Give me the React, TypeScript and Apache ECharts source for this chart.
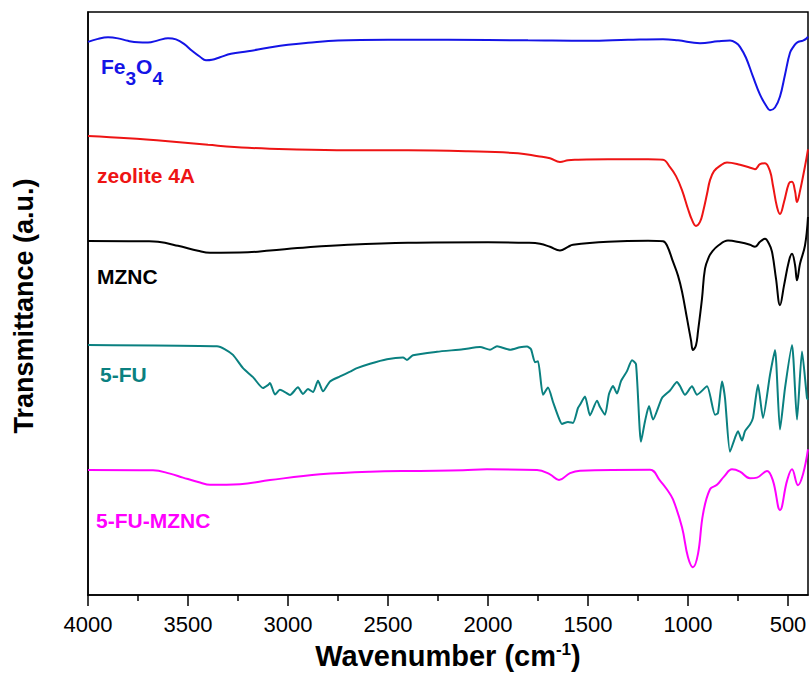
import React, { useEffect, useRef } from "react";
import * as echarts from "echarts";

// [wavenumber (cm-1), transmittance (a.u., offset spectra)]
const fe3o4: [number, number][] = [
  [4000, 556], [3950, 559], [3900, 560.5], [3850, 559.5], [3800, 557], [3750, 555.5], [3700, 555.3],
  [3650, 557.5], [3600, 559.7], [3560, 558.5], [3520, 554], [3480, 547], [3440, 541], [3410, 537.5],
  [3380, 538], [3340, 540.5], [3285, 544], [3200, 546.5], [3100, 550], [3000, 553], [2900, 555],
  [2750, 557.3], [2500, 558], [2200, 558], [1800, 557.5], [1500, 557], [1300, 558], [1125, 558.7],
  [1050, 557.5], [940, 554.7], [850, 556.5], [790, 557.3], [760, 555], [740, 551], [710, 540],
  [675, 521], [640, 503], [610, 492], [590, 487.3], [565, 490], [540, 501], [515, 523], [490, 545],
  [470, 552], [455, 555.3], [425, 557.3], [410, 559], [400, 561.3],
];

const zeolite4A: [number, number][] = [
  [4000, 461.3], [3800, 459], [3600, 456], [3400, 452.5], [3200, 449.5], [3000, 448], [2700, 447],
  [2400, 447], [2100, 446], [1850, 444], [1750, 441], [1690, 439], [1640, 435.3], [1600, 437],
  [1560, 437.5], [1400, 438], [1200, 438], [1125, 437.5], [1090, 430], [1060, 421], [1030, 407],
  [1000, 388], [980, 377], [960, 371], [940, 375], [925, 385], [905, 403], [890, 417], [870, 426],
  [840, 431.3], [805, 434.7], [740, 432.5], [680, 429], [665, 428], [640, 433], [615, 434],
  [590, 426], [575, 411.3], [555, 390], [540, 383], [520, 395], [495, 414], [480, 415.3],
  [465, 406], [455, 395], [440, 406], [415, 431], [400, 448],
];

const mznc: [number, number][] = [
  [4000, 355.7], [3700, 355.5], [3650, 355], [3550, 351], [3450, 346], [3390, 344], [3200, 344.5],
  [3090, 346.3], [2900, 349.5], [2700, 352], [2400, 354], [2000, 354.5], [1800, 354], [1740, 353],
  [1690, 350], [1640, 346.3], [1600, 350], [1575, 352], [1400, 355], [1200, 356], [1125, 355.5],
  [1105, 351.3], [1075, 335], [1050, 321], [1030, 305], [1005, 278], [985, 256], [975, 246.3],
  [960, 251], [950, 265], [930, 298], [915, 328], [895, 340], [880, 345], [850, 351], [800, 356.3],
  [740, 354.5], [690, 352], [665, 350], [640, 355], [615, 358], [595, 353], [580, 345], [560, 318],
  [540, 291.3], [520, 311], [495, 336], [480, 343], [465, 332], [455, 316.3], [440, 333],
  [415, 351.3], [400, 380],
];

const fu5: [number, number][] = [
  [4000, 251.3], [3355, 250], [3315, 247], [3275, 241.3], [3225, 228], [3175, 219], [3125, 208],
  [3100, 211], [3090, 213], [3065, 201.5], [3040, 206.3], [3015, 204], [2990, 201], [2950, 208.7],
  [2925, 202], [2900, 207], [2875, 204], [2850, 215.3], [2825, 204.7], [2790, 214.7], [2740, 219.7],
  [2690, 224.5], [2655, 228], [2590, 232.5], [2505, 237], [2425, 238.7], [2405, 236.3], [2375, 241],
  [2255, 244.5], [2125, 247], [2040, 249.3], [1990, 246.5], [1955, 250], [1890, 246.5], [1840, 249],
  [1805, 249.7], [1785, 247], [1765, 234], [1750, 235], [1725, 201.3], [1700, 208.5], [1675, 194],
  [1650, 180], [1630, 172], [1600, 174], [1575, 173], [1550, 188], [1540, 191.3], [1515, 199.5],
  [1490, 180.5], [1455, 195.3], [1440, 189], [1415, 181.3], [1395, 202], [1375, 210], [1355, 202.5],
  [1335, 215], [1305, 225], [1280, 236], [1260, 232], [1235, 154], [1215, 174.7], [1195, 190],
  [1175, 176.3], [1130, 198], [1090, 205.5], [1055, 214], [1040, 210], [1015, 201.3], [980, 209.7],
  [955, 201.3], [905, 209.7], [865, 181.3], [850, 183], [830, 214.7], [815, 198], [790, 144],
  [765, 158], [750, 164.7], [730, 155.3], [715, 164.7], [690, 171.3], [675, 178], [650, 211.3],
  [625, 178], [590, 221.3], [565, 246.3], [540, 166.3], [515, 208], [480, 251.3], [455, 176.3],
  [430, 244.7], [405, 198], [400, 196.3],
];

const fuMznc: [number, number][] = [
  [4000, 125.7], [3675, 125.3], [3590, 122], [3525, 118], [3440, 113], [3390, 110.7], [3240, 111.3],
  [3090, 115.5], [2840, 121.3], [2590, 124], [2340, 124.7], [2125, 125.3], [2005, 126.3], [1755, 125.7],
  [1690, 121.3], [1645, 115.7], [1590, 122.5], [1540, 125], [1190, 126], [1140, 115], [1105, 106],
  [1075, 96], [1030, 68], [1000, 38], [975, 28], [950, 41.3], [925, 81.3], [890, 106.3], [855, 110.7],
  [820, 119], [780, 126.3], [740, 124], [690, 117.3], [655, 118], [605, 124.7], [575, 114.7],
  [540, 85.3], [505, 114.7], [480, 126.3], [450, 110.3], [425, 121.3], [400, 146.3],
];

const majorTicks = [4000, 3500, 3000, 2500, 2000, 1500, 1000, 500];
const minorTicks = [3750, 3250, 2750, 2250, 1750, 1250, 750];

const FONT = '"Liberation Sans", Arial, sans-serif';
const BLUE = "#1414e6";
const RED = "#ee1414";
const BLACK = "#000000";
const TEAL = "#0a8080";
const MAGENTA = "#ff00ff";

export default function App() {
  const ref = useRef<HTMLDivElement>(null);
  useEffect(() => {
    const chart = echarts.init(ref.current!, null, { renderer: "svg" });
    const mk = (name: string, data: [number, number][], color: string, smooth: number) => ({
      name,
      type: "line",
      data,
      xAxisIndex: 0,
      yAxisIndex: 0,
      showSymbol: false,
      smooth,
      lineStyle: { color, width: 2 },
      itemStyle: { color },
    });
    chart.setOption({
      animation: false,
      backgroundColor: "#ffffff",
      grid: {
        left: 88,
        right: 2,
        top: 12,
        bottom: 77,
        show: true,
        borderColor: "#000",
        borderWidth: 1.5,
        backgroundColor: "transparent",
      },
      xAxis: [
        {
          type: "value",
          min: 400,
          max: 4000,
          inverse: true,
          position: "bottom",
          axisLine: { show: true, onZero: false, lineStyle: { color: "#000", width: 1.5 } },
          axisTick: {
            show: true,
            length: 11,
            customValues: majorTicks,
            lineStyle: { color: "#000", width: 1.5 },
          },
          axisLabel: {
            customValues: majorTicks,
            showMinLabel: true,
            showMaxLabel: true,
            margin: 18,
            fontSize: 22,
            color: "#000",
            fontFamily: FONT,
            formatter: (v: number) => (majorTicks.indexOf(v) >= 0 ? String(v) : ""),
          },
          splitLine: { show: false },
          name: "Wavenumber (cm{sup|-1})",
          nameLocation: "middle",
          nameGap: 46,
          nameTextStyle: {
            fontSize: 29,
            fontWeight: "bold",
            color: "#000",
            fontFamily: FONT,
            rich: {
              sup: { fontSize: 17, fontWeight: "bold", color: "#000", fontFamily: FONT, verticalAlign: "top" },
            },
          },
        },
        {
          type: "value",
          min: 400,
          max: 4000,
          inverse: true,
          position: "bottom",
          axisLine: { show: false },
          axisTick: {
            show: true,
            length: 6,
            customValues: minorTicks,
            lineStyle: { color: "#000", width: 1.5 },
          },
          axisLabel: { show: false },
          splitLine: { show: false },
        },
      ],
      yAxis: {
        type: "value",
        min: 0,
        max: 586,
        axisLine: { show: true, onZero: false, lineStyle: { color: "#000", width: 1.5 } },
        axisTick: { show: false },
        axisLabel: { show: false },
        splitLine: { show: false },
      },
      series: [
        mk("Fe3O4", fe3o4, BLUE, 0.4),
        mk("zeolite 4A", zeolite4A, RED, 0.4),
        mk("MZNC", mznc, BLACK, 0.4),
        mk("5-FU", fu5, TEAL, 0.2),
        mk("5-FU-MZNC", fuMznc, MAGENTA, 0.4),
      ],
      graphic: [
        {
          type: "text",
          x: 24,
          y: 306,
          rotation: Math.PI / 2,
          style: {
            text: "Transmittance (a.u.)",
            fontSize: 27,
            fontWeight: "bold",
            fontFamily: FONT,
            fill: "#000",
            align: "center",
            verticalAlign: "middle",
            textAlign: "center",
            textVerticalAlign: "middle",
          },
        },
        {
          type: "text",
          x: 101,
          y: 88,
          style: {
            text: "{n|Fe}{s|3}{n|O}{s|4}",
            fontSize: 21,
            fontWeight: "bold",
            fontFamily: FONT,
            fill: BLUE,
            align: "left",
            verticalAlign: "bottom",
            textAlign: "left",
            textVerticalAlign: "bottom",
            rich: {
              n: { fontSize: 21, fontWeight: "bold", fontFamily: FONT, fill: BLUE, color: BLUE, verticalAlign: "bottom", padding: [0, 0, 11, 0] },
              s: { fontSize: 19, fontWeight: "bold", fontFamily: FONT, fill: BLUE, color: BLUE, verticalAlign: "bottom" },
            },
          },
        },
        ...[
          { t: "zeolite 4A", y: 175, c: RED, x: 97 },
          { t: "MZNC", y: 276, c: BLACK, x: 97 },
          { t: "5-FU", y: 374, c: TEAL, x: 100 },
          { t: "5-FU-MZNC", y: 520, c: MAGENTA, x: 96 },
        ].map((l) => ({
          type: "text",
          x: l.x,
          y: l.y,
          style: {
            text: l.t,
            fontSize: 21,
            fontWeight: "bold",
            fontFamily: FONT,
            fill: l.c,
            align: "left",
            verticalAlign: "middle",
            textAlign: "left",
            textVerticalAlign: "middle",
          },
        })),
      ],
    });
    return () => chart.dispose();
  }, []);
  return (
    <div
      ref={ref}
      style={{ position: "fixed", left: 0, top: 0, width: 810, height: 675, background: "#fff" }}
    />
  );
}
